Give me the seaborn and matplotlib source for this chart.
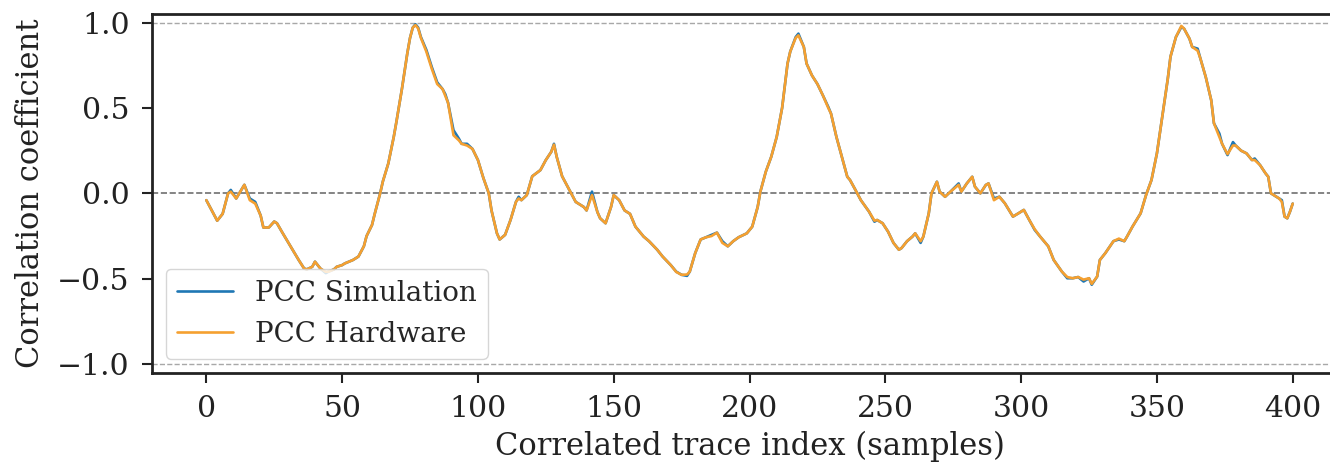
import matplotlib
matplotlib.use("Agg")
import matplotlib.pyplot as plt
import seaborn as sns

# ---- data ----
sample_idx = [
    0, 2, 4, 6, 8, 9, 11, 14, 16, 18,
    20, 21, 23, 25, 26, 28, 31, 34, 36, 37,
    39, 40, 42, 44, 45, 47, 48, 50, 51, 54,
    56, 58, 59, 61, 62, 64, 65, 67, 69, 70,
    72, 74, 75, 76, 77, 78, 79, 81, 83, 85,
    87, 88, 89, 91, 93, 94, 96, 98, 100, 102,
    104, 105, 107, 108, 110, 112, 114, 115, 116, 118,
    120, 123, 125, 127, 128, 129, 131, 134, 136, 139,
    140, 142, 144, 145, 147, 149, 150, 152, 154, 156,
    158, 161, 163, 166, 168, 171, 173, 175, 177, 178,
    180, 182, 184, 186, 188, 190, 192, 194, 196, 199,
    201, 203, 204, 206, 208, 210, 212, 214, 215, 217,
    218, 220, 221, 223, 225, 227, 229, 230, 232, 234,
    236, 237, 239, 241, 244, 246, 247, 249, 251, 253,
    255, 256, 258, 260, 261, 263, 264, 266, 267, 269,
    270, 272, 274, 277, 278, 280, 282, 283, 285, 287,
    288, 290, 292, 294, 297, 299, 301, 303, 305, 307,
    310, 312, 315, 317, 319, 321, 323, 325, 326, 328,
    329, 331, 334, 336, 338, 339, 341, 344, 346, 348,
    350, 352, 354, 355, 357, 359, 360, 362, 363, 365,
    366, 368, 370, 371, 373, 374, 376, 378, 379, 381,
    383, 385, 386, 388, 390, 391, 392, 394, 395, 396,
    397, 398, 399, 400,
]

pcc_simulation = [
    -0.04, -0.10, -0.16, -0.12, 0.00, 0.02, -0.03, 0.05, -0.03, -0.05,
    -0.13, -0.20, -0.20, -0.165, -0.175, -0.23, -0.31, -0.39, -0.44, -0.445,
    -0.43, -0.40, -0.44, -0.467, -0.458, -0.445, -0.43, -0.42, -0.41, -0.39,
    -0.37, -0.31, -0.25, -0.185, -0.12, 0.00, 0.07, 0.175, 0.33, 0.42,
    0.61, 0.82, 0.91, 0.97, 0.99, 0.97, 0.915, 0.84, 0.74, 0.65,
    0.61, 0.58, 0.53, 0.37, 0.32, 0.29, 0.29, 0.26, 0.195, 0.09,
    0.00, -0.10, -0.234, -0.27, -0.243, -0.156, -0.05, -0.02, -0.04, -0.01,
    0.10, 0.136, 0.195, 0.243, 0.29, 0.214, 0.10, 0.01, -0.05, -0.08,
    -0.10, 0.01, -0.11, -0.146, -0.175, -0.08, -0.01, -0.04, -0.10, -0.12,
    -0.195, -0.253, -0.28, -0.33, -0.37, -0.42, -0.458, -0.477, -0.483, -0.458,
    -0.35, -0.27, -0.257, -0.243, -0.23, -0.28, -0.31, -0.28, -0.257, -0.234,
    -0.195, -0.08, 0.01, 0.127, 0.214, 0.33, 0.50, 0.76, 0.83, 0.915,
    0.935, 0.857, 0.76, 0.69, 0.64, 0.574, 0.506, 0.467, 0.33, 0.214,
    0.097, 0.078, 0.02, -0.04, -0.107, -0.166, -0.156, -0.175, -0.224, -0.29,
    -0.33, -0.32, -0.28, -0.253, -0.234, -0.29, -0.253, -0.117, 0.00, 0.068,
    0.01, -0.02, 0.01, 0.058, 0.01, 0.058, 0.097, 0.039, 0.00, 0.049,
    0.058, -0.03, -0.02, -0.058, -0.136, -0.117, -0.097, -0.156, -0.214, -0.253,
    -0.31, -0.39, -0.458, -0.497, -0.497, -0.49, -0.516, -0.497, -0.535, -0.487,
    -0.39, -0.35, -0.28, -0.27, -0.28, -0.253, -0.195, -0.117, -0.01, 0.078,
    0.234, 0.45, 0.67, 0.80, 0.915, 0.974, 0.964, 0.905, 0.857, 0.847,
    0.79, 0.68, 0.545, 0.41, 0.35, 0.29, 0.224, 0.30, 0.28, 0.25,
    0.234, 0.195, 0.204, 0.165, 0.117, 0.097, 0.00, -0.02, -0.03, -0.04,
    -0.136, -0.146, -0.107, -0.06,
]

pcc_hardware = [
    -0.04, -0.10, -0.16, -0.12, 0.00, 0.01, -0.03, 0.05, -0.04, -0.06,
    -0.13, -0.20, -0.20, -0.165, -0.175, -0.23, -0.31, -0.39, -0.44, -0.445,
    -0.43, -0.40, -0.44, -0.46, -0.458, -0.445, -0.43, -0.42, -0.41, -0.39,
    -0.37, -0.31, -0.25, -0.185, -0.12, 0.00, 0.07, 0.175, 0.33, 0.42,
    0.61, 0.82, 0.91, 0.97, 0.985, 0.965, 0.91, 0.83, 0.73, 0.64,
    0.61, 0.57, 0.53, 0.34, 0.31, 0.29, 0.28, 0.26, 0.195, 0.09,
    0.00, -0.10, -0.234, -0.27, -0.243, -0.156, -0.05, -0.03, -0.04, -0.01,
    0.10, 0.136, 0.195, 0.243, 0.285, 0.214, 0.10, 0.01, -0.05, -0.08,
    -0.10, -0.01, -0.11, -0.146, -0.175, -0.08, -0.01, -0.04, -0.10, -0.12,
    -0.195, -0.253, -0.28, -0.33, -0.37, -0.42, -0.46, -0.477, -0.475, -0.458,
    -0.35, -0.27, -0.257, -0.25, -0.23, -0.29, -0.31, -0.28, -0.257, -0.234,
    -0.195, -0.08, 0.01, 0.127, 0.214, 0.33, 0.50, 0.76, 0.83, 0.91,
    0.925, 0.857, 0.76, 0.69, 0.64, 0.574, 0.50, 0.467, 0.33, 0.214,
    0.097, 0.078, 0.02, -0.04, -0.107, -0.16, -0.156, -0.175, -0.224, -0.29,
    -0.33, -0.32, -0.28, -0.253, -0.234, -0.28, -0.253, -0.117, 0.00, 0.068,
    0.01, -0.02, 0.01, 0.05, 0.01, 0.058, 0.097, 0.039, 0.00, 0.049,
    0.058, -0.04, -0.02, -0.058, -0.136, -0.117, -0.097, -0.156, -0.21, -0.253,
    -0.31, -0.39, -0.458, -0.49, -0.497, -0.49, -0.505, -0.497, -0.53, -0.487,
    -0.39, -0.35, -0.28, -0.265, -0.28, -0.253, -0.195, -0.117, -0.01, 0.078,
    0.234, 0.45, 0.67, 0.80, 0.915, 0.98, 0.964, 0.905, 0.857, 0.835,
    0.79, 0.68, 0.545, 0.41, 0.33, 0.29, 0.23, 0.28, 0.28, 0.25,
    0.234, 0.195, 0.195, 0.165, 0.117, 0.097, 0.00, -0.02, -0.03, -0.05,
    -0.136, -0.146, -0.107, -0.06,
]

ref_levels = [-1.0, 0.0, 1.0]
x_ticks = [0, 50, 100, 150, 200, 250, 300, 350, 400]
y_ticks = [-1.0, -0.5, 0.0, 0.5, 1.0]

# ---- style ----
sns.set_theme(style="ticks")
plt.rcParams["font.family"] = ["DejaVu Serif"]
plt.rcParams["mathtext.fontset"] = "dejavuserif"

fig = plt.figure(figsize=(13.3, 4.63), dpi=100)
fig.patch.set_facecolor("white")
# right edge of the axes lies just outside the figure, as in the reference
ax = fig.add_axes([0.1143, 0.195, 0.8985, 0.7748])

for lvl in ref_levels:
    if lvl == 0.0:
        ax.axhline(lvl, color="#707070", ls="--", lw=1.2, zorder=0)
    else:
        ax.axhline(lvl, color="#a8a8a8", ls="--", lw=1.0, zorder=0)

sns.lineplot(x=sample_idx, y=pcc_simulation, ax=ax, color="#1f77b4",
             lw=1.9, label="PCC Simulation")
sns.lineplot(x=sample_idx, y=pcc_hardware, ax=ax, color="#f5a030",
             lw=1.9, label="PCC Hardware")

ax.set_xlim(-20, 420)
ax.set_ylim(-1.05, 1.05)
ax.set_xticks(x_ticks)
ax.set_yticks(y_ticks)

for side in ["left", "bottom", "top", "right"]:
    ax.spines[side].set_linewidth(2.0)
    ax.spines[side].set_color("#222222")

ax.tick_params(axis="both", length=7, width=1.5, pad=9, labelsize=21.5,
               colors="#222222", labelcolor="#222222")
ax.set_xlabel("Correlated trace index (samples)", fontsize=22, color="#222222",
              labelpad=6)
ax.set_ylabel("Correlation coefficient", fontsize=22, color="#222222",
              labelpad=8)

leg = ax.legend(loc="lower left", fontsize=20, frameon=True, framealpha=0.8,
                edgecolor="0.8", fancybox=True)

fig.savefig("out.png", dpi=100, facecolor="white")
